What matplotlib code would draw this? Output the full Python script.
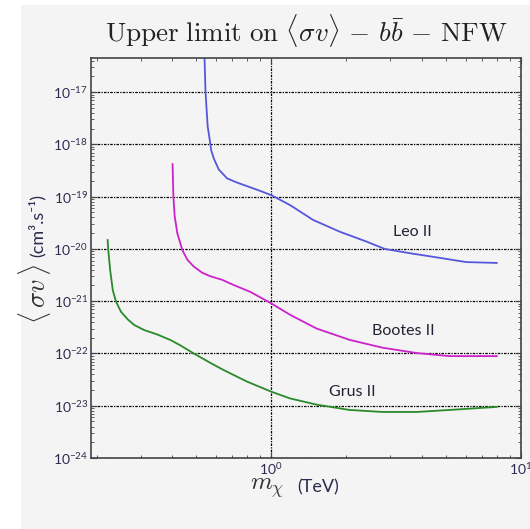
import matplotlib.pyplot as plt
from matplotlib.patches import Rectangle

# ======================
# data
# ======================
leo_m = [0.541, 0.546, 0.557, 0.568, 0.575, 0.589, 0.617, 0.666, 0.730, 0.825, 0.904,
         1.0, 1.19, 1.47, 1.88, 2.41, 2.85, 3.58, 4.42, 6.04, 8.0]
leo_sv = [4.47e-17, 1.0e-17, 2.19e-18, 1.2e-18, 7.8e-19, 5.4e-19, 3.3e-19, 2.24e-19, 1.86e-19,
          1.51e-19, 1.29e-19, 1.07e-19, 6.9e-20, 3.6e-20, 2.14e-20, 1.38e-20, 1.0e-20,
          8.3e-21, 7.1e-21, 5.6e-21, 5.4e-21]

bootes_m = [0.403, 0.406, 0.411, 0.421, 0.441, 0.462, 0.490, 0.530, 0.571, 0.636, 0.708, 0.825,
            1.0, 1.19, 1.52, 2.06, 2.79, 3.82, 5.17, 8.0]
bootes_sv = [4.2e-19, 1.0e-19, 4.2e-20, 2.0e-20, 9.5e-21, 6.2e-21, 4.6e-21, 3.5e-21, 3.0e-21,
             2.57e-21, 2.04e-21, 1.51e-21, 9.1e-22, 5.5e-22, 3.0e-22, 1.82e-22, 1.29e-22,
             1.02e-22, 8.9e-23, 8.9e-23]

grus_m = [0.2215, 0.2228, 0.2266, 0.2323, 0.2393, 0.2504, 0.2664, 0.2832, 0.3105, 0.3508,
          0.3959, 0.434, 0.490, 0.571, 0.646, 0.800, 1.0, 1.19, 1.52, 2.06, 2.79, 3.82, 5.17, 8.0]
grus_sv = [1.48e-20, 9.5e-21, 4.0e-21, 1.62e-21, 9.8e-22, 6.3e-22, 4.5e-22, 3.5e-22, 2.8e-22,
           2.3e-22, 1.8e-22, 1.42e-22, 1.0e-22, 6.6e-23, 4.8e-23, 2.9e-23, 1.86e-23, 1.38e-23,
           1.05e-23, 8.3e-24, 7.6e-24, 7.6e-24, 8.3e-24, 9.5e-24]

labels = ["Leo II", "Bootes II", "Grus II"]
label_pos = [(3.68, 2.1e-20), (3.39, 2.7e-22), (2.12, 1.8e-23)]
colors = ["#5656dc", "#cc22cc", "#2a8a2a"]

# ======================
# figure
# ======================
plt.rcParams['font.family'] = ['Lato', 'DejaVu Sans']
bg = "#f4f4f4"
ink = "#2b2b50"

fig = plt.figure(figsize=(5.30, 5.29), dpi=100, facecolor="white")
fig.patches.append(Rectangle((21 / 530, 0), 1, 1 - 5 / 529, transform=fig.transFigure,
                             facecolor=bg, edgecolor="none", zorder=-10))
ax = fig.add_axes([91 / 530, 1 - 458 / 529, 430 / 530, 400 / 529])
ax.set_facecolor(bg)

for m, sv, c in zip([leo_m, bootes_m, grus_m], [leo_sv, bootes_sv, grus_sv], colors):
    ax.plot(m, sv, color=c, lw=1.3)

for lab, (x, y) in zip(labels, label_pos):
    ax.text(x, y, lab, fontsize=11.5, color="#222233", ha="center", va="center")

ax.set_xscale("log")
ax.set_yscale("log")
ax.set_xlim(0.19, 10)
ax.set_ylim(1e-24, 4.5e-17)

ax.grid(True, which="major", color="black", lw=0.9, linestyle=(0, (2, 1, 1, 1)))
ax.tick_params(which="both", direction="in", top=True, right=True, colors="#444444",
               labelcolor=ink, labelsize=10)
ax.tick_params(which="major", length=4, pad=2)
ax.tick_params(which="minor", length=2)
for s in ax.spines.values():
    s.set_color("#444444")
    s.set_linewidth(1.2)

ax.set_title(r"$\mathrm{Upper\ limit\ on}\ \langle\sigma v\rangle\,-\,b\bar{b}\,-\,\mathrm{NFW}$",
             fontsize=19.5, math_fontfamily="cm", pad=12, color="#222222")

# axis labels: math part and unit part sized differently
fig.text(267 / 530, 1 - 488 / 529, r"$m_\chi$", fontsize=18, math_fontfamily="cm",
         ha="center", va="center", color="#333333")
fig.text(318 / 530, 1 - 487 / 529, "(TeV)", fontsize=13, ha="center", va="center", color=ink)
fig.text(35 / 530, 1 - 294 / 529, r"$\langle\,\sigma v\,\rangle$", fontsize=19, math_fontfamily="cm",
         rotation=90, ha="center", va="center", color="#333333")
fig.text(37 / 530, 1 - 225 / 529, "(cm³.s⁻¹)", fontsize=13, rotation=90,
         ha="center", va="center", color=ink)

fig.savefig("out.png", dpi=100, facecolor=fig.get_facecolor())
